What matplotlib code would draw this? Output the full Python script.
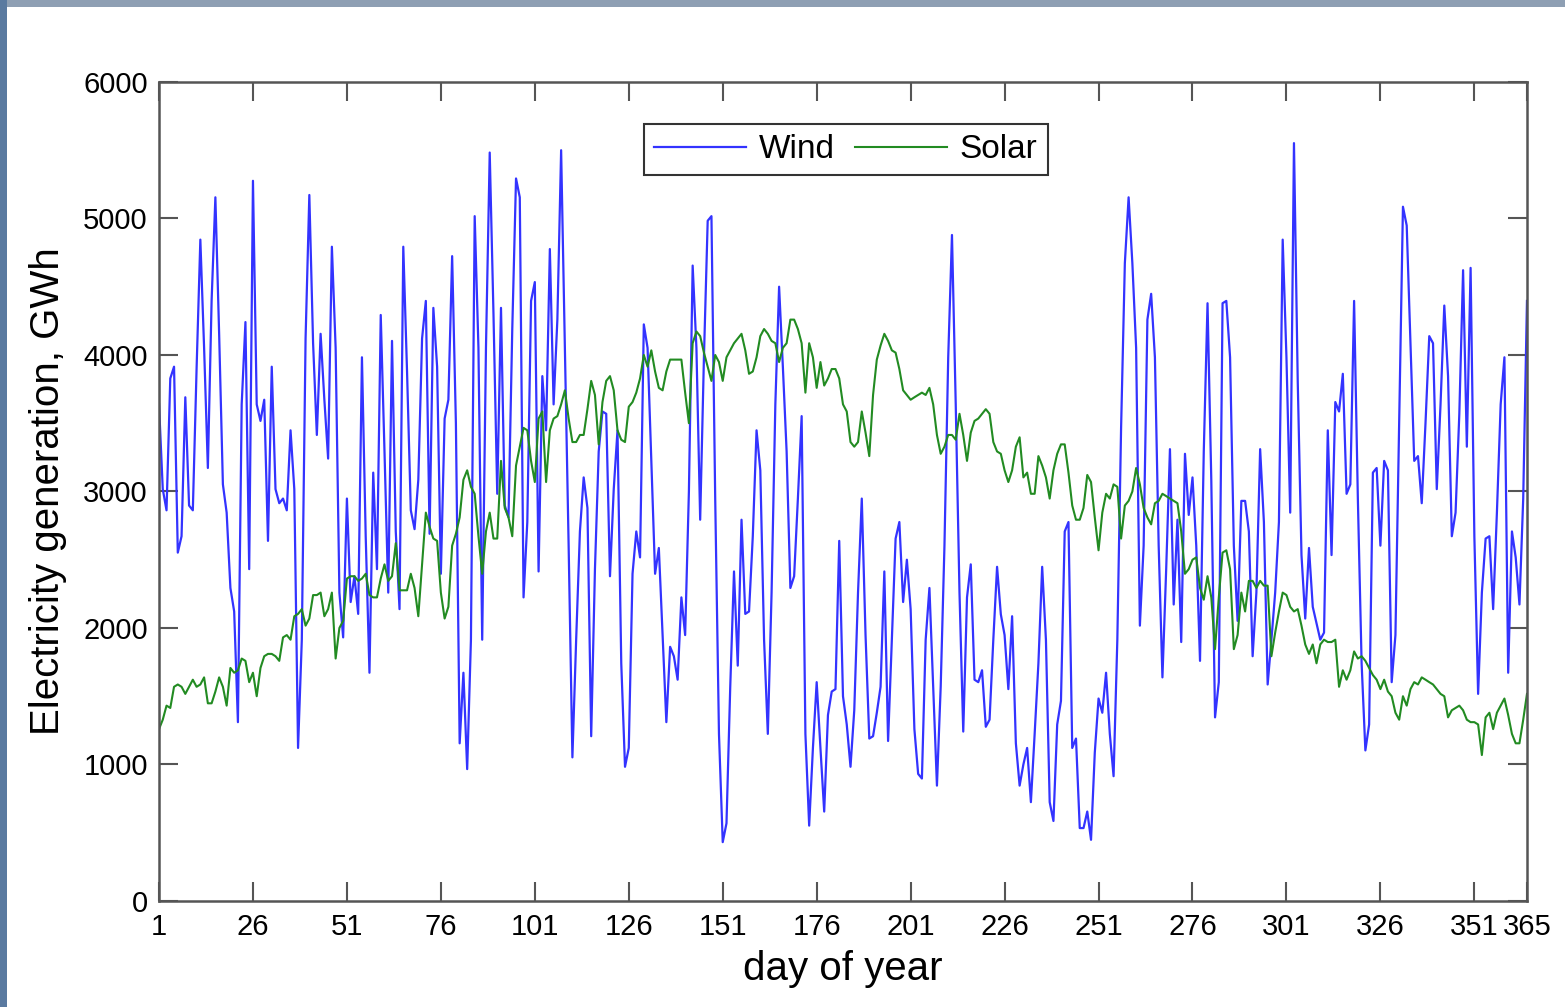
import numpy as np
import matplotlib
matplotlib.use("Agg")
import matplotlib.pyplot as plt
from matplotlib.patches import Rectangle

plt.rcParams['font.family'] = ['Liberation Sans', 'DejaVu Sans']

wind = [
    3640, 3017, 2862, 3828, 3914, 2552, 2672, 3690, 2897, 2862,
    3900, 4845, 4052, 3172, 4400, 5155, 4155, 3052, 2845, 2293,
    2121, 1310, 3638, 4241, 2431, 5276, 3638, 3517, 3672, 2638,
    3914, 3017, 2914, 2948, 2862, 3448, 3017, 1121, 1914, 4121,
    5172, 4086, 3414, 4155, 3672, 3241,
    4793, 4052, 2259, 1931, 2948, 2190, 2379, 2103, 3983, 2672,
    1672, 3138, 2431, 4293, 3293, 2259, 4103, 2707, 2138, 4793,
    3879, 2862, 2724, 3086, 4121, 4396, 2690, 4345, 3914, 2397,
    3534, 3672, 4724, 3500, 1155, 1672, 966, 1914, 5017, 4052,
    1914, 4052, 5483, 4300, 2983,
    4345, 2897, 2810, 4190, 5293, 5155, 2224, 2776, 4396, 4534,
    2414, 3845, 3448, 4776, 3638, 4259, 5500, 4052, 2600, 1052,
    1914, 2707, 3103, 2879, 1207, 2431, 3293, 3586, 3569, 2379,
    3017, 3448, 1741, 983, 1121, 2397, 2707, 2517, 4224, 4052,
    3224, 2397, 2586, 1948, 1310, 1862,
    1793, 1621, 2224, 1948, 3000, 4655, 4052, 2793, 3983, 4983,
    5017, 2948, 1224, 431, 569, 1569, 2414, 1724, 2793, 2103,
    2121, 2672, 3448, 3155, 1914, 1224, 2259, 3638, 4500, 3914,
    3293, 2293, 2379, 2948, 3552, 1224, 552, 1121, 1603, 1121,
    655, 1362, 1534, 1552, 2638,
    1500, 1293, 983, 1397, 2259, 2948, 1948, 1190, 1207, 1379,
    1569, 2414, 1172, 1914, 2655, 2776, 2190, 2500, 2138, 1259,
    931, 897, 1914, 2293, 1569, 845, 1569, 2603, 3983, 4879,
    3638, 2259, 1241, 2224, 2466, 1621, 1603, 1690, 1276, 1328,
    1914, 2448, 2100, 1948, 1552,
    2086, 1155, 845, 1000, 1121, 724, 1224, 1741, 2448, 1914,
    724, 586, 1293, 1466, 2707, 2776, 1121, 1190, 534, 534,
    655, 448, 1086, 1483, 1379, 1672, 1224, 914, 1914, 3466,
    4672, 5155, 4672, 4052, 2017, 2603, 4259, 4448, 3983, 2603,
    1638, 2431, 3310, 2172, 2793,
    1897, 3276, 2828, 3103, 2603, 1759, 3293, 4379, 3086, 1345,
    1603, 4379, 4396, 3983, 2603, 2052, 2931, 2931, 2707, 1793,
    2259, 3310, 2776, 1586, 1914, 2259, 2776, 4845, 3983, 2845,
    5552, 3810, 2534, 2069, 2586, 2155, 2034, 1914, 1966, 3448,
    2534, 3655, 3586, 3862, 2983,
    3052, 4396, 2948, 1741, 1103, 1293, 3138, 3172, 2603, 3224,
    3155, 1603, 1948, 3500, 5086, 4948, 4086, 3224, 3259, 2914,
    3500, 4138, 4086, 3017, 3638, 4362, 3845, 2672, 2845, 3569,
    4621, 3328, 4638, 2672, 1517, 2259, 2655, 2672, 2138, 2845,
    3638, 3983, 1672, 2707, 2517, 2172, 2948, 4396,
]

solar = [
    1259, 1328, 1431, 1414, 1569, 1586, 1569, 1517, 1569, 1621,
    1569, 1586, 1638, 1448, 1448, 1534, 1638, 1569, 1431, 1707,
    1672, 1690, 1776, 1759, 1603, 1672, 1500, 1707, 1793, 1810,
    1810, 1793, 1759, 1931, 1948, 1914, 2086, 2103, 2138, 2017,
    2069, 2241, 2241, 2259, 2086, 2138,
    2259, 1776, 2000, 2052, 2362, 2379, 2379, 2345, 2362, 2397,
    2241, 2224, 2224, 2362, 2466, 2345, 2379, 2621, 2276, 2276,
    2276, 2397, 2293, 2086, 2466, 2845, 2741, 2655, 2638, 2259,
    2069, 2155, 2603, 2690, 2810, 3086, 3155, 3034, 2983, 2672,
    2397, 2707, 2845, 2655, 2655,
    3224, 2879, 2810, 2672, 3190, 3328, 3466, 3448, 3224, 3069,
    3534, 3586, 3069, 3448, 3534, 3552, 3638, 3741, 3534, 3362,
    3362, 3414, 3414, 3603, 3810, 3707, 3345, 3655, 3810, 3845,
    3741, 3448, 3379, 3362, 3621, 3655, 3724, 3828, 4000, 3914,
    4034, 3879, 3759, 3741, 3879, 3966,
    3966, 3966, 3966, 3724, 3500, 4086, 4172, 4138, 4017, 3914,
    3810, 4000, 3948, 3810, 3983, 4034, 4086, 4121, 4155, 4034,
    3862, 3879, 3983, 4138, 4190, 4155, 4103, 4086, 3948, 4052,
    4086, 4259, 4259, 4190, 4086, 3724, 4086, 3983, 3759, 3948,
    3776, 3828, 3897, 3897, 3828,
    3638, 3586, 3362, 3328, 3362, 3586, 3431, 3259, 3707, 3966,
    4069, 4155, 4103, 4034, 4017, 3897, 3741, 3707, 3672, 3690,
    3707, 3724, 3707, 3759, 3638, 3414, 3276, 3328, 3414, 3414,
    3379, 3569, 3414, 3224, 3431, 3517, 3534, 3569, 3603, 3569,
    3362, 3293, 3276, 3155, 3069,
    3155, 3328, 3397, 3103, 3138, 2983, 2983, 3259, 3190, 3103,
    2948, 3155, 3276, 3345, 3345, 3138, 2897, 2793, 2793, 2879,
    3121, 3069, 2810, 2569, 2845, 2983, 2948, 3052, 3034, 2655,
    2897, 2931, 3000, 3172, 3052, 2879, 2810, 2759, 2914, 2931,
    2983, 2966, 2948, 2931, 2914,
    2707, 2397, 2431, 2500, 2517, 2293, 2207, 2379, 2224, 1845,
    2224, 2552, 2569, 2431, 1845, 1948, 2259, 2121, 2345, 2345,
    2293, 2345, 2310, 2310, 1793, 1966, 2121, 2259, 2241, 2155,
    2121, 2138, 2017, 1879, 1810, 1879, 1741, 1879, 1914, 1897,
    1897, 1914, 1569, 1690, 1621,
    1690, 1828, 1776, 1793, 1759, 1707, 1655, 1621, 1552, 1621,
    1534, 1500, 1379, 1328, 1500, 1431, 1552, 1603, 1586, 1638,
    1621, 1603, 1586, 1552, 1517, 1500, 1345, 1397, 1414, 1431,
    1397, 1328, 1310, 1310, 1293, 1069, 1345, 1379, 1259, 1379,
    1431, 1483, 1362, 1224, 1155, 1155, 1328, 1517,
]

days = list(range(1, 366))
x_ticks = [1, 26, 51, 76, 101, 126, 151, 176, 201, 226, 251, 276, 301, 326, 351, 365]
y_ticks = [0, 1000, 2000, 3000, 4000, 5000, 6000]

fig = plt.figure(figsize=(15.65, 10.07), dpi=100)
fig.patch.set_facecolor('white')

# slide background edges
fig.patches.append(Rectangle((0, 0.993), 1, 0.007, transform=fig.transFigure,
                             facecolor='#8e9fb3', edgecolor='none', zorder=0))
fig.patches.append(Rectangle((0, 0), 0.0045, 1, transform=fig.transFigure,
                             facecolor='#5a7aa0', edgecolor='none', zorder=0))

ax = fig.add_axes([0.1016, 0.1053, 0.8741, 0.8133])
ax.plot(days, wind, color='#3333ff', lw=1.6, label='Wind')
ax.plot(days, solar, color='#228b22', lw=1.5, label='Solar')

ax.set_xlim(1, 365)
ax.set_ylim(0, 6000)
ax.set_xticks(x_ticks)
ax.set_yticks(y_ticks)
ax.tick_params(axis='both', direction='in', length=14, width=1.5, color='#555555',
               labelsize=21, top=True, right=True)
ax.tick_params(axis='x', pad=9)
ax.tick_params(axis='y', pad=8)
for sp in ax.spines.values():
    sp.set_color('#555555')
    sp.set_linewidth(1.8)

ax.set_xlabel('day of year', fontsize=29, labelpad=6)
ax.set_ylabel('Electricity generation, GWh', fontsize=29, labelpad=12)

leg = ax.legend(loc='center', bbox_to_anchor=(0.502, 0.917), ncol=2, fontsize=24,
                frameon=True, fancybox=False, edgecolor='black', handlelength=2.75,
                handletextpad=0.4, columnspacing=0.6, borderpad=0.3)
leg.get_frame().set_linewidth(1.5)

fig.savefig('out.png', dpi=100, facecolor='white')
